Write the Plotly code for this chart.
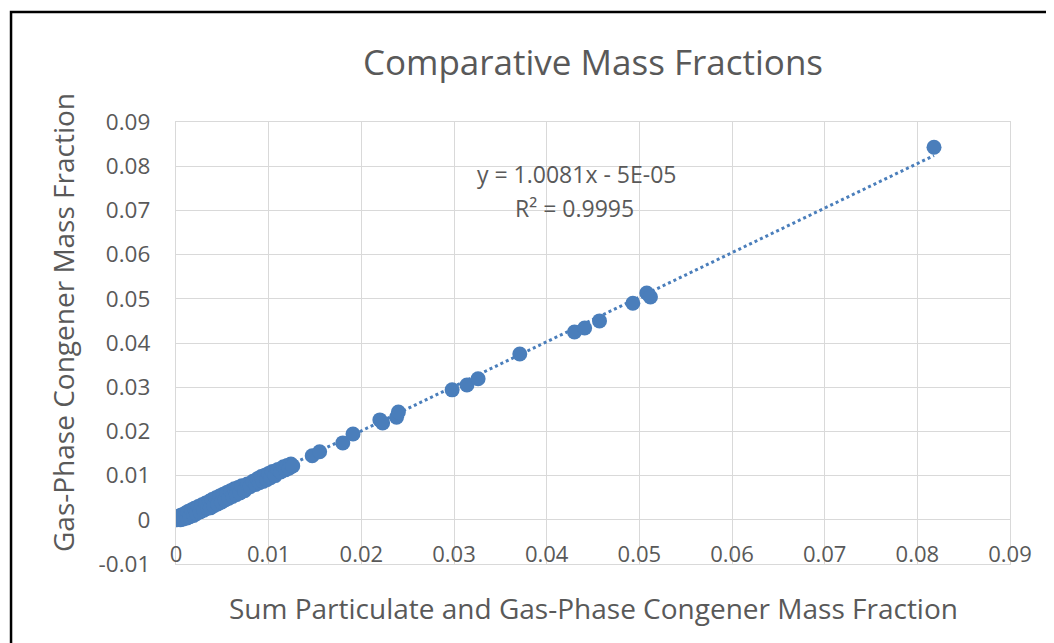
import plotly.graph_objects as go

# ---- data ----
sum_fraction = [
    0.0000, 0.0001, 0.0002, 0.0003, 0.0004, 0.0005, 0.0006, 0.0008, 0.0010, 0.0012,
    0.0013, 0.0015, 0.0017, 0.0019, 0.0020, 0.0022, 0.0024, 0.0026, 0.0028, 0.0030,
    0.0032, 0.0034, 0.0036, 0.0037, 0.0039, 0.0041, 0.0043, 0.0045, 0.0047, 0.0049,
    0.0051, 0.0053, 0.0055, 0.0057, 0.0059, 0.0061, 0.0063, 0.0065, 0.0067, 0.0069,
    0.0071, 0.0074, 0.0077, 0.0080, 0.0083, 0.0086, 0.0088, 0.0090, 0.0092, 0.0094,
    0.0096, 0.0098, 0.0100, 0.0102, 0.0104, 0.0107, 0.0110, 0.0113, 0.0116, 0.0118,
    0.0120, 0.0122, 0.0124, 0.0126,
    0.0147, 0.0155, 0.0180, 0.0191, 0.0220, 0.0223, 0.0238, 0.0240,
    0.0298, 0.0314, 0.0326, 0.0371, 0.0430, 0.0441, 0.0457, 0.0493,
    0.0508, 0.0512, 0.0818,
]
gas_fraction = [
    0.0006, 0.0000, 0.0005, 0.0001, 0.0009, 0.0000, 0.0011, 0.0002, 0.0015, 0.0004,
    0.0019, 0.0007, 0.0023, 0.0010, 0.0026, 0.0014, 0.0030, 0.0018, 0.0034, 0.0022,
    0.0038, 0.0026, 0.0042, 0.0027, 0.0046, 0.0032, 0.0050, 0.0036, 0.0054, 0.0040,
    0.0058, 0.0045, 0.0062, 0.0049, 0.0066, 0.0053, 0.0070, 0.0057, 0.0073, 0.0061,
    0.0077, 0.0066, 0.0081, 0.0075, 0.0087, 0.0080, 0.0093, 0.0084, 0.0098, 0.0087,
    0.0101, 0.0091, 0.0105, 0.0095, 0.0109, 0.0100, 0.0114, 0.0108, 0.0120, 0.0113,
    0.0123, 0.0117, 0.0126, 0.0122,
    0.0145, 0.0154, 0.0174, 0.0194, 0.0226, 0.0219, 0.0232, 0.0244,
    0.0294, 0.0305, 0.0319, 0.0375, 0.0425, 0.0434, 0.0450, 0.0490,
    0.0513, 0.0504, 0.0843,
]
trend_slope = 1.0081
trend_intercept = -5e-05
equation_line1 = "y = 1.0081x - 5E-05"
equation_line2 = "R² = 0.9995"
tick_values = [0, 0.01, 0.02, 0.03, 0.04, 0.05, 0.06, 0.07, 0.08, 0.09]
y_tick_values = [-0.01] + tick_values
tick_labels = ["0", "0.01", "0.02", "0.03", "0.04", "0.05", "0.06", "0.07", "0.08", "0.09"]
y_tick_labels = ["-0.01"] + tick_labels

TEXT = "#595959"
GRID = "#D9D9D9"
BLUE = "#4A7EBB"
FONT = "Open Sans"

x_min, x_max = min(sum_fraction), max(sum_fraction)
trend_x = [x_min, x_max]
trend_y = [trend_slope * v + trend_intercept for v in trend_x]

fig = go.Figure()
fig.add_trace(go.Scatter(
    x=trend_x, y=trend_y, mode="lines",
    line=dict(color=BLUE, width=3, dash="dot"),
    hoverinfo="skip", showlegend=False,
))
fig.add_trace(go.Scatter(
    x=sum_fraction, y=gas_fraction, mode="markers",
    marker=dict(color=BLUE, size=15, line=dict(width=0)),
    showlegend=False,
))

fig.update_layout(
    width=1046, height=635,
    margin=dict(l=168, r=44, t=114, b=79, autoexpand=False),
    paper_bgcolor="white", plot_bgcolor="white",
    font=dict(family=FONT, color=TEXT, size=22),
    title=dict(text="Comparative Mass Fractions", x=0.5, xref="paper", xanchor="center",
               y=0.913, yref="container", yanchor="middle",
               font=dict(size=35, color=TEXT, family=FONT)),
    xaxis=dict(
        range=[0, 0.09], tickvals=tick_values, ticktext=tick_labels,
        showgrid=True, gridcolor=GRID, gridwidth=1.3, zeroline=False,
        showline=True, mirror=True, linecolor=GRID, linewidth=1.3,
        ticks="", ticklabelposition="outside", ticklabelstandoff=-30,
        tickfont=dict(size=22, color=TEXT),
    ),
    yaxis=dict(
        range=[-0.01, 0.09], tickvals=y_tick_values, ticktext=y_tick_labels,
        showgrid=True, gridcolor=GRID, gridwidth=1.3, zeroline=True,
        zerolinecolor=GRID, zerolinewidth=1.3,
        showline=True, mirror=True, linecolor=GRID, linewidth=1.3,
        ticks="", ticklabelstandoff=20,
        tickfont=dict(size=22.5, color=TEXT),
    ),
    shapes=[dict(type="rect", xref="paper", yref="paper",
                 x0=-0.1978, x1=1.3, y0=-0.4, y1=1.2489,
                 line=dict(color="black", width=2.5), layer="above")],
    annotations=[
        dict(text=equation_line1, x=0.04317, y=0.07824, xref="x", yref="y",
             showarrow=False, font=dict(size=23, color=TEXT)),
        dict(text=equation_line2, x=0.04295, y=0.07054, xref="x", yref="y",
             showarrow=False, font=dict(size=23, color=TEXT)),
        dict(text="Sum Particulate and Gas-Phase Congener Mass Fraction",
             x=0.5, y=-0.0995, xref="paper", yref="paper", xanchor="center",
             yanchor="middle", showarrow=False, font=dict(size=28, color=TEXT)),
        dict(text="Gas-Phase Congener Mass Fraction",
             x=-0.1355, y=0.5475, xref="paper", yref="paper", xanchor="center",
             yanchor="middle", textangle=-90, showarrow=False,
             font=dict(size=28, color=TEXT)),
    ],
)

fig.write_html("out.html")
